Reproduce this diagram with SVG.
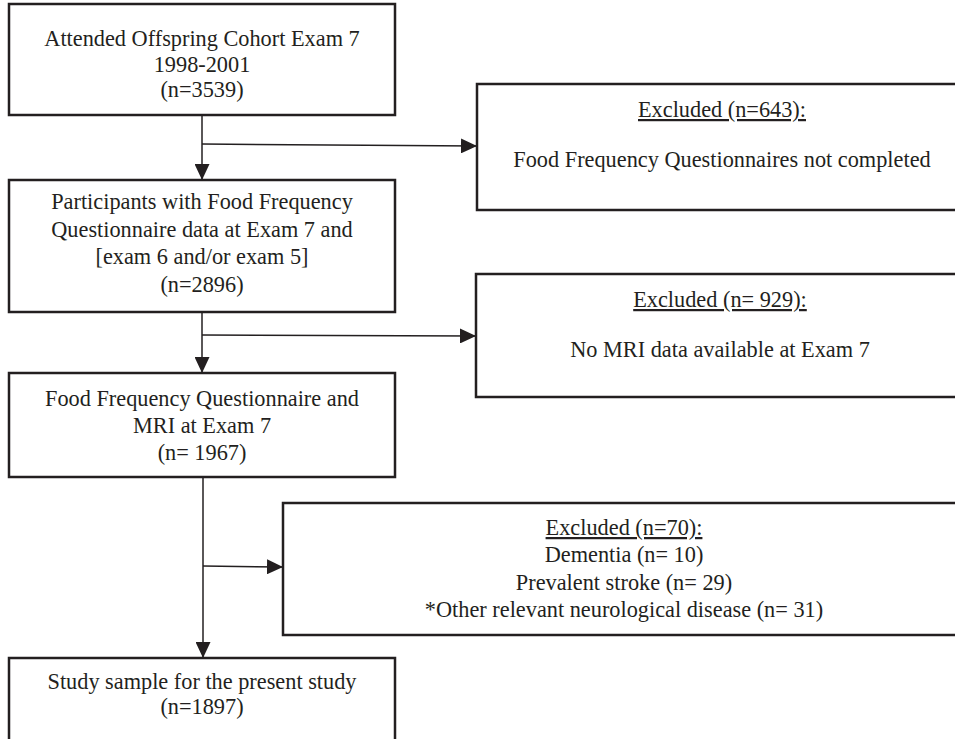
<svg xmlns="http://www.w3.org/2000/svg" width="955" height="739" viewBox="0 0 955 739">
<defs>
<marker id="ah" markerWidth="16" markerHeight="15" refX="16" refY="7.5" orient="auto" markerUnits="userSpaceOnUse"><path d="M0,0 L16,7.5 L0,15 Z" fill="#231f20"/></marker>
</defs>
<style>
.box{fill:#fff;stroke:#231f20;stroke-width:2.5}
.t{font-family:"Liberation Serif","Times New Roman",serif;font-size:22.3px;fill:#231f20;text-anchor:middle}
.u{text-decoration:underline}
.c{stroke:#231f20;stroke-width:1.5;fill:none}
</style>
<rect width="955" height="739" fill="#fff"/>
<g id="connectors">
<path class="c" d="M202,115 V180" marker-end="url(#ah)"/>
<path class="c" d="M202,144 L477,146" marker-end="url(#ah)"/>
<path class="c" d="M202,312 V373" marker-end="url(#ah)"/>
<path class="c" d="M202,335 L476,336" marker-end="url(#ah)"/>
<path class="c" d="M203,477 V658" marker-end="url(#ah)"/>
<path class="c" d="M203,566 L283,567" marker-end="url(#ah)"/>
</g>
<g id="box1">
<rect class="box" x="9" y="4" width="386" height="111"/>
<text class="t" x="202" y="46">Attended Offspring Cohort Exam 7</text>
<text class="t" x="202" y="72">1998-2001</text>
<text class="t" x="202" y="97">(n=3539)</text>
</g>
<g id="excl1">
<rect class="box" x="477" y="84" width="500" height="126"/>
<text class="t u" x="722" y="117">Excluded (n=643):</text>
<text class="t" x="722" y="167">Food Frequency Questionnaires not completed</text>
</g>
<g id="box2">
<rect class="box" x="9" y="180" width="386" height="132"/>
<text class="t" x="202" y="209">Participants with Food Frequency</text>
<text class="t" x="202" y="237">Questionnaire data at Exam 7 and</text>
<text class="t" x="202" y="264">[exam 6 and/or exam 5]</text>
<text class="t" x="202" y="292">(n=2896)</text>
</g>
<g id="excl2">
<rect class="box" x="476" y="274" width="500" height="123"/>
<text class="t u" x="720" y="307">Excluded (n= 929):</text>
<text class="t" x="720" y="357">No MRI data available at Exam 7</text>
</g>
<g id="box3">
<rect class="box" x="9" y="373" width="386" height="104"/>
<text class="t" x="202" y="406">Food Frequency Questionnaire and</text>
<text class="t" x="202" y="433">MRI at Exam 7</text>
<text class="t" x="202" y="460">(n= 1967)</text>
</g>
<g id="excl3">
<rect class="box" x="283" y="503" width="700" height="132"/>
<text class="t u" x="624" y="535">Excluded (n=70):</text>
<text class="t" x="624" y="562">Dementia (n= 10)</text>
<text class="t" x="624" y="590">Prevalent stroke (n= 29)</text>
<text class="t" x="624" y="617">*Other relevant neurological disease (n= 31)</text>
</g>
<g id="box4">
<rect class="box" x="9" y="658" width="386" height="100"/>
<text class="t" x="202" y="689">Study sample for the present study</text>
<text class="t" x="202" y="714">(n=1897)</text>
</g>
</svg>
